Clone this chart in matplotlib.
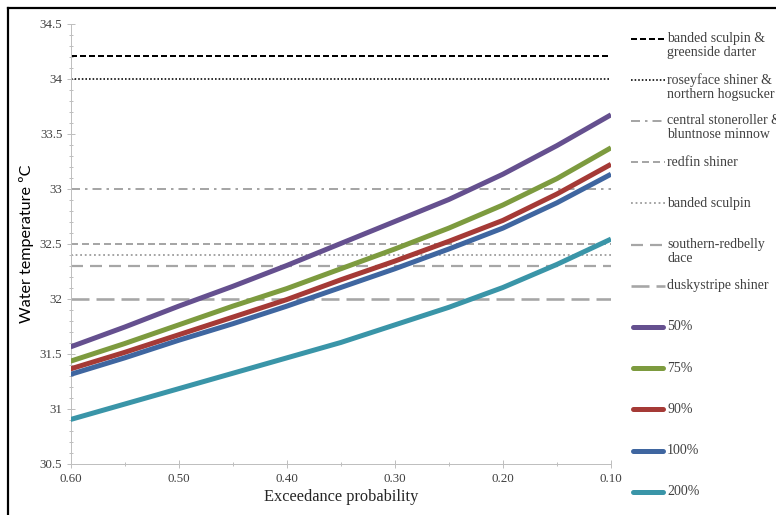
import matplotlib
matplotlib.use("Agg")
import matplotlib.pyplot as plt
from matplotlib.lines import Line2D
from matplotlib.ticker import MultipleLocator, FixedLocator, FuncFormatter

plt.rcParams['lines.scale_dashes'] = False

# ---------------- data ----------------
exceedance = [0.60, 0.55, 0.50, 0.45, 0.40, 0.35, 0.30, 0.25, 0.20, 0.15, 0.10]
flow_labels = ["50%", "75%", "90%", "100%", "200%"]
temp_50 = [31.56, 31.74, 31.93, 32.11, 32.30, 32.50, 32.70, 32.90, 33.13, 33.39, 33.67]
temp_75 = [31.43, 31.59, 31.76, 31.93, 32.09, 32.27, 32.45, 32.64, 32.85, 33.09, 33.37]
temp_90 = [31.36, 31.51, 31.67, 31.83, 31.99, 32.17, 32.34, 32.52, 32.71, 32.95, 33.22]
temp_100 = [31.31, 31.46, 31.62, 31.77, 31.93, 32.10, 32.27, 32.45, 32.64, 32.87, 33.13]
temp_200 = [30.90, 31.04, 31.18, 31.32, 31.46, 31.60, 31.76, 31.92, 32.10, 32.31, 32.54]

species_labels = [
    "banded sculpin &\ngreenside darter",
    "roseyface shiner &\nnorthern hogsucker",
    "central stoneroller &\nbluntnose minnow",
    "redfin shiner",
    "banded sculpin",
    "southern-redbelly\ndace",
    "duskystripe shiner",
]
species_thresholds = [34.2, 34.0, 33.0, 32.5, 32.4, 32.3, 32.0]

x_ticks = [0.60, 0.50, 0.40, 0.30, 0.20, 0.10]

# ---------------- styles ----------------
W, H = 776, 515
DPI = 100
px = 72.0 / DPI  # points per pixel

thr_styles = [
    dict(color="black", lw=2.0 * px, dashes=(6 * px, 3 * px)),
    dict(color="black", lw=1.6 * px, dashes=(1.6 * px, 2.0 * px)),
    dict(color="#a6a6a6", lw=2.0 * px, dashes=(9 * px, 5 * px, 2.5 * px, 5 * px)),
    dict(color="#a6a6a6", lw=2.0 * px, dashes=(7 * px, 4 * px)),
    dict(color="#a6a6a6", lw=2.0 * px, dashes=(1.8 * px, 2.8 * px)),
    dict(color="#a6a6a6", lw=2.2 * px, dashes=(12 * px, 7 * px)),
    dict(color="#a6a6a6", lw=2.6 * px, dashes=(18 * px, 7 * px)),
]
curve_colors = ["#65508f", "#7d9b3f", "#a53a36", "#3f66a0", "#3a95a8"]
curve_series = [temp_50, temp_75, temp_90, temp_100, temp_200]
curve_lw = 5.0 * px

serif = ["Liberation Serif", "DejaVu Serif"]

fig = plt.figure(figsize=(W / DPI, H / DPI), dpi=DPI)

# outer frame (left/top visible in the crop)
fig.add_artist(Line2D([8 / W, 8 / W], [0, 1 - 8 / H], transform=fig.transFigure,
                      color="black", lw=2.2 * px))
fig.add_artist(Line2D([8 / W, 1], [1 - 8 / H, 1 - 8 / H], transform=fig.transFigure,
                      color="black", lw=2.2 * px))

ax_l, ax_r = 70.5, 611.0
ax_t, ax_b = 23.5, 463.5
ax = fig.add_axes([ax_l / W, 1 - ax_b / H, (ax_r - ax_l) / W, (ax_b - ax_t) / H])

for thr, st in zip(species_thresholds, thr_styles):
    ax.axhline(thr, color=st["color"], lw=st["lw"], dashes=st["dashes"], zorder=2)

for vals, col in zip(curve_series, curve_colors):
    ax.plot(exceedance, vals, color=col, lw=curve_lw, solid_capstyle="butt",
            solid_joinstyle="round", zorder=3)

ax.set_xlim(0.60, 0.10)
ax.set_ylim(30.5, 34.5)
ax.xaxis.set_major_locator(FixedLocator(x_ticks))
ax.xaxis.set_minor_locator(MultipleLocator(0.05))
ax.yaxis.set_major_locator(MultipleLocator(0.5))
ax.yaxis.set_minor_locator(MultipleLocator(0.1))
ax.set_xticklabels([f"{v:.2f}" for v in x_ticks])
ax.yaxis.set_major_formatter(FuncFormatter(lambda v, p: f"{v:g}"))

for s in ["top", "right"]:
    ax.spines[s].set_visible(False)
for s in ["left", "bottom"]:
    ax.spines[s].set_color("#bfbfbf")
    ax.spines[s].set_linewidth(1.0 * px)

ax.tick_params(axis="both", which="major", direction="inout", length=8 * px,
               width=1.0 * px, color="#bfbfbf", labelsize=9.4, labelcolor="#404040")
ax.tick_params(axis="both", which="minor", direction="inout", length=5 * px,
               width=1.0 * px, color="#bfbfbf")
ax.tick_params(axis="x", pad=4)
ax.tick_params(axis="y", pad=3)
for lab in ax.get_xticklabels() + ax.get_yticklabels():
    lab.set_family(serif)

ax.set_xlabel("Exceedance probability", family=serif, fontsize=11.8,
              color="#262626", labelpad=3)
ax.set_ylabel("Water temperature ºC", family=["Lato", "DejaVu Sans"], fontsize=11.6,
              color="#000000", labelpad=4)

# ---------------- legend (Excel-style, uniform pitch) ----------------
all_labels = species_labels + flow_labels
handle_x0, handle_x1 = 631, 665
text_x = 667
y0 = 38.5
pitch = 41.2
for i, lab in enumerate(all_labels):
    y = y0 + pitch * i
    if i < len(species_labels):
        st = thr_styles[i]
        ln = Line2D([handle_x0 / W, handle_x1 / W], [1 - y / H, 1 - y / H],
                    transform=fig.transFigure, color=st["color"], lw=st["lw"],
                    dashes=st["dashes"])
    else:
        col = curve_colors[i - len(species_labels)]
        ln = Line2D([(handle_x0 + 2) / W, (handle_x1 - 2) / W], [1 - y / H, 1 - y / H],
                    transform=fig.transFigure, color=col, lw=curve_lw,
                    solid_capstyle="round")
    fig.add_artist(ln)
    fig.text(text_x / W, 1 - (y - 6.5) / H, lab, family=serif, fontsize=10.0,
             color="#404040", va="top", ha="left", linespacing=1.1)

fig.savefig("out.png", dpi=DPI)
